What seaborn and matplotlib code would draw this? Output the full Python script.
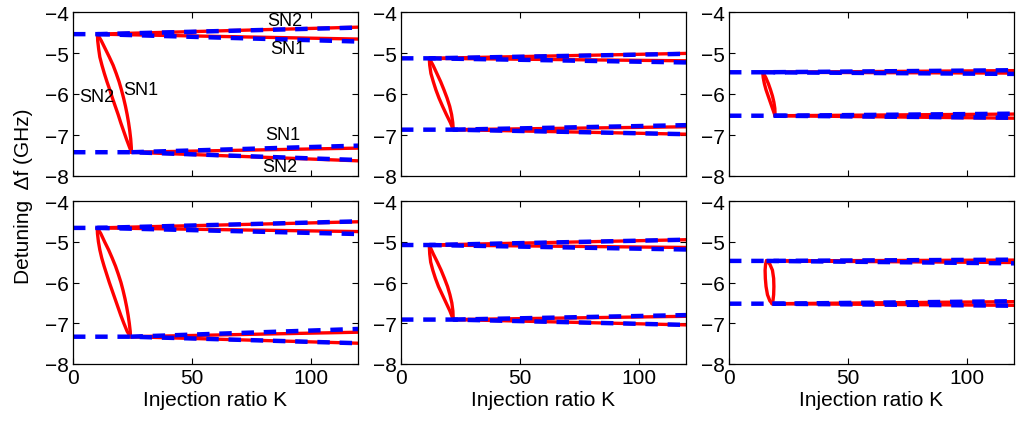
import matplotlib
matplotlib.use("Agg")
import matplotlib.pyplot as plt
import seaborn as sns

# --- data (panels row by row) ---
K_MAX = 120

# fold points: top and bottom end of the red loop
k_top = [10.3, 11.9, 14.2, 10.2, 11.9, 15.8]
y_top = [-4.54, -5.13, -5.47, -4.66, -5.08, -5.47]
k_bot = [24.6, 22.0, 19.4, 24.2, 22.0, 18.2]
y_bot = [-7.42, -6.87, -6.53, -7.33, -6.91, -6.52]

# branch values at K = 120
red_top_hi = [-4.37, -5.01, -5.43, -4.51, -4.95, -5.45]
red_top_lo = [-4.66, -5.19, -5.49, -4.75, -5.14, -5.51]
red_bot_hi = [-7.32, -6.80, -6.49, -7.22, -6.83, -6.47]
red_bot_lo = [-7.63, -6.98, -6.59, -7.49, -7.04, -6.56]
blue_top_hi = [-4.38, -5.02, -5.42, -4.50, -4.95, -5.44]
blue_top_lo = [-4.72, -5.23, -5.51, -4.81, -5.19, -5.53]
blue_bot_hi = [-7.26, -6.76, -6.48, -7.14, -6.80, -6.46]
blue_bot_lo = [-7.61, -6.98, -6.58, -7.49, -7.04, -6.57]

# the loop between the folds: left (SN2) and right (SN1) curve
lens_y = [
    [-4.54, -4.7, -4.9, -5.1, -5.3, -5.5, -5.7, -5.9, -6.1, -6.3, -6.5, -6.7, -6.9, -7.1, -7.3, -7.42],
    [-5.13, -5.3, -5.5, -5.7, -5.9, -6.1, -6.3, -6.5, -6.7, -6.87],
    [-5.47, -5.6, -5.75, -5.9, -6.05, -6.2, -6.35, -6.53],
    [-4.66, -4.8, -5.0, -5.2, -5.4, -5.6, -5.8, -6.0, -6.2, -6.4, -6.6, -6.8, -7.0, -7.2, -7.33],
    [-5.08, -5.3, -5.5, -5.7, -5.9, -6.1, -6.3, -6.5, -6.7, -6.91],
    [-5.47, -5.55, -5.7, -5.9, -6.1, -6.3, -6.45, -6.52],
]
lens_k_left = [
    [10.3, 10.4, 10.8, 11.3, 12.2, 13.2, 14.3, 15.5, 16.6, 17.8, 19.0, 20.1, 21.3, 22.5, 23.8, 24.6],
    [11.9, 12.1, 12.6, 13.6, 14.7, 16.0, 17.5, 19.1, 20.8, 22.0],
    [14.2, 14.4, 14.9, 15.6, 16.5, 17.4, 18.3, 19.4],
    [10.2, 10.3, 10.7, 11.3, 12.1, 13.1, 14.2, 15.3, 16.5, 17.7, 18.9, 20.1, 21.4, 22.8, 24.2],
    [11.9, 12.1, 12.5, 13.4, 14.5, 15.8, 17.4, 19.0, 20.6, 22.0],
    [15.8, 15.4, 15.2, 15.3, 15.6, 16.2, 17.2, 18.2],
]
lens_k_right = [
    [10.3, 11.9, 13.6, 15.3, 16.9, 18.2, 19.4, 20.4, 21.3, 22.1, 22.8, 23.4, 23.9, 24.3, 24.55, 24.6],
    [11.9, 13.5, 15.1, 16.7, 18.1, 19.4, 20.5, 21.3, 21.8, 22.0],
    [14.2, 15.5, 16.6, 17.5, 18.3, 18.9, 19.3, 19.4],
    [10.2, 11.7, 13.3, 15.0, 16.5, 17.9, 19.1, 20.2, 21.1, 21.9, 22.6, 23.2, 23.7, 24.1, 24.2],
    [11.9, 13.6, 15.3, 16.9, 18.3, 19.6, 20.6, 21.4, 21.85, 22.0],
    [15.8, 17.2, 18.3, 18.8, 18.9, 18.8, 18.5, 18.2],
]

# branch labels (first panel only)
sn_text = ["SN2", "SN1", "SN2", "SN1", "SN1", "SN2"]
sn_k = [89.0, 90.4, 10.1, 28.5, 88.3, 86.9]
sn_y = [-4.21, -4.90, -6.07, -5.88, -6.98, -7.77]

x_ticks = [0, 50, 100]
y_ticks = [-8, -7, -6, -5, -4]

# --- style ---
sns.set_theme(style="ticks", rc={
    "axes.edgecolor": "black",
    "axes.linewidth": 0.9,
    "xtick.color": "black",
    "ytick.color": "black",
    "text.color": "black",
    "axes.labelcolor": "black",
})
plt.rcParams["font.family"] = ["Liberation Sans", "DejaVu Sans"]

W, H = 1022, 427
fig = plt.figure(figsize=(W / 100, H / 100), dpi=100)

lefts = [73, 401, 729]
rows = [(13, 177), (202, 365)]
axes = []
for top, bottom in rows:
    for left in lefts:
        axes.append(fig.add_axes([left / W, 1 - bottom / H, 285 / W, (bottom - top) / H]))

blue_dash = (0, (2.8, 2.2))
RED_LW = 2.4
BLUE_LW = 3.2

for i, ax in enumerate(axes):
    # red solid branches
    sns.lineplot(x=lens_k_left[i], y=lens_y[i], sort=False, estimator=None,
                 color="red", lw=RED_LW, ax=ax)
    sns.lineplot(x=lens_k_right[i], y=lens_y[i], sort=False, estimator=None,
                 color="red", lw=RED_LW, ax=ax)
    for y_end in (red_top_hi[i], red_top_lo[i]):
        sns.lineplot(x=[k_top[i], K_MAX], y=[y_top[i], y_end], color="red", lw=RED_LW, ax=ax)
    for y_end in (red_bot_hi[i], red_bot_lo[i]):
        sns.lineplot(x=[k_bot[i], K_MAX], y=[y_bot[i], y_end], color="red", lw=RED_LW, ax=ax)

    # blue dashed branches
    sns.lineplot(x=[0, k_top[i], K_MAX], y=[y_top[i], y_top[i], blue_top_hi[i]], sort=False,
                 color="blue", lw=BLUE_LW, linestyle=blue_dash, ax=ax)
    sns.lineplot(x=[k_top[i], K_MAX], y=[y_top[i], blue_top_lo[i]],
                 color="blue", lw=BLUE_LW, linestyle=blue_dash, ax=ax)
    sns.lineplot(x=[0, k_bot[i], K_MAX], y=[y_bot[i], y_bot[i], blue_bot_lo[i]], sort=False,
                 color="blue", lw=BLUE_LW, linestyle=blue_dash, ax=ax)
    sns.lineplot(x=[k_bot[i], K_MAX], y=[y_bot[i], blue_bot_hi[i]],
                 color="blue", lw=BLUE_LW, linestyle=blue_dash, ax=ax)

    ax.set_xlim(0, K_MAX)
    ax.set_ylim(-8, -4)
    ax.set_xticks(x_ticks)
    ax.set_yticks(y_ticks)
    ax.tick_params(direction="in", top=True, right=True, length=4, width=0.8,
                   labelsize=15, pad=3)
    for s in ax.spines.values():
        s.set_visible(True)
    if i < 3:
        ax.set_xticklabels([])
    else:
        ax.set_xlabel("Injection ratio K", fontsize=15, labelpad=2)
    ax.set_ylabel("")

for t, k, y in zip(sn_text, sn_k, sn_y):
    axes[0].text(k, y, t, fontsize=13, ha="center", va="center")

fig.text(24 / W, 1 - 196 / H, "Detuning  \u0394f (GHz)", rotation=90,
         ha="center", va="center", fontsize=15)

fig.savefig("out.png", dpi=100)
